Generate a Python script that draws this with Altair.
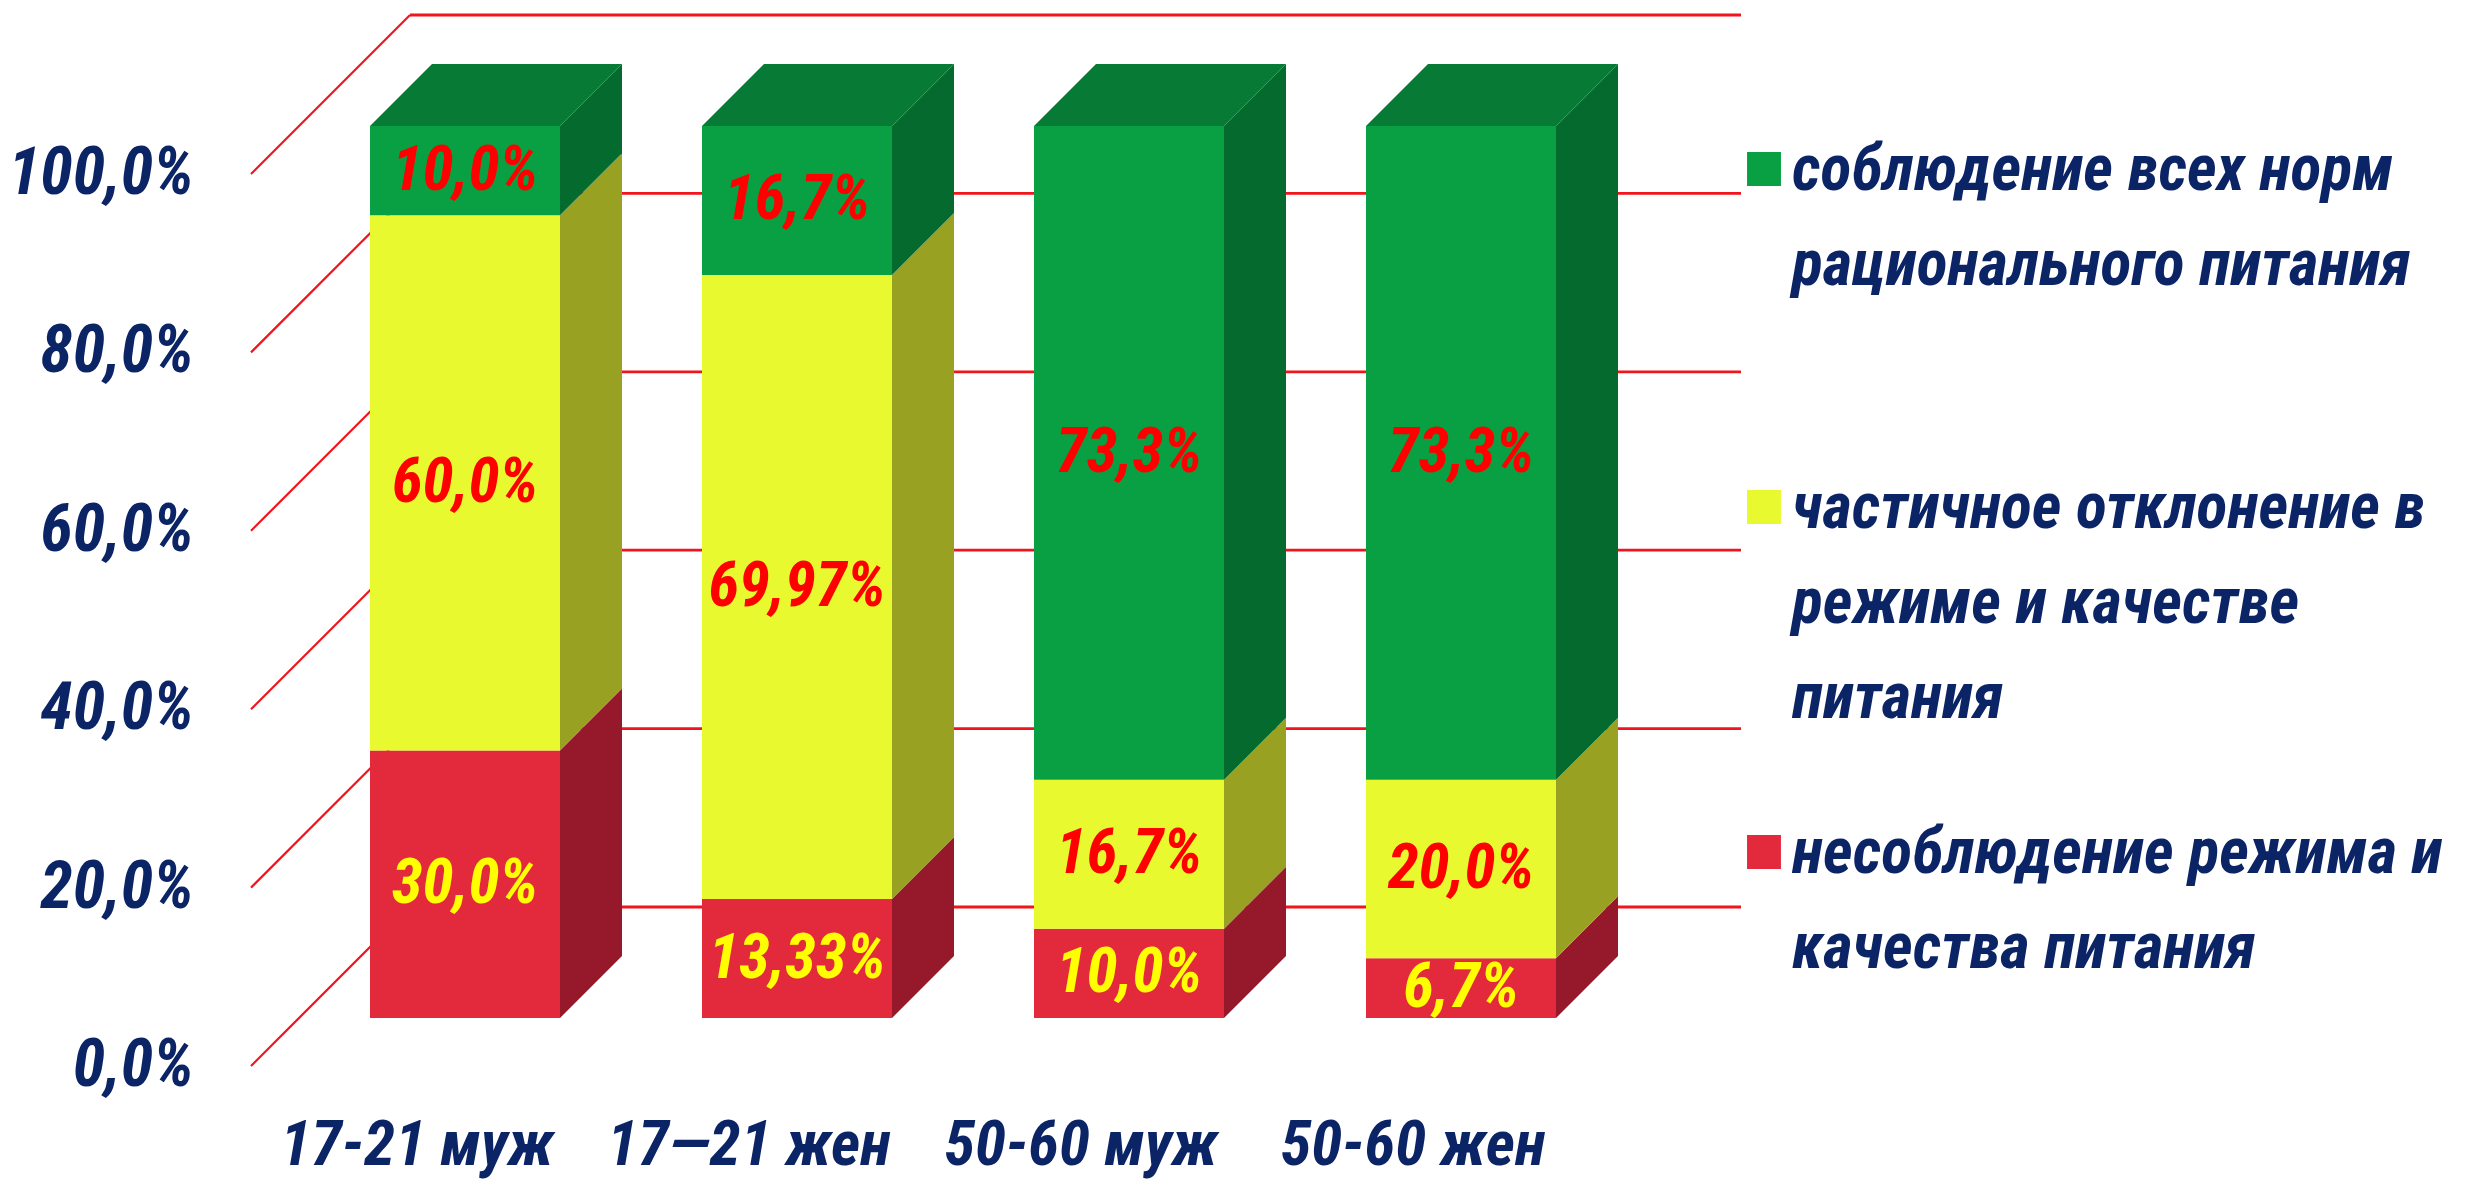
import altair as alt
import pandas as pd

# ---------------- data ----------------
categories = ["17-21 муж", "17—21 жен", "50-60 муж", "50-60 жен"]
series_names = [
    "несоблюдение режима и качества питания",
    "частичное отклонение в режиме и качестве питания",
    "соблюдение всех норм рационального питания",
]
red_values = [30.0, 13.33, 10.0, 6.7]
yellow_values = [60.0, 69.97, 16.7, 20.0]
green_values = [10.0, 16.7, 73.3, 73.3]
y_ticks = [0, 20, 40, 60, 80, 100]
legend_order = [2, 1, 0]  # legend lists green, yellow, red
legend_lines = [
    ["соблюдение всех норм", "рационального питания"],
    ["частичное отклонение в", "режиме и качестве", "питания"],
    ["несоблюдение режима и", "качества питания"],
]

# ---------------- styles ----------------
FRONT = ["#E32A3D", "#E9F92F", "#08A042"]
SIDE = ["#95192A", "#98A121", "#046A2D"]
TOP = ["#9E1F2D", "#A5AE25", "#077B35"]
LABEL_COL = ["#FFFF00", "#FF0000", "#FF0000"]
NAVY = "#0B2466"
GRID = "#F0141C"
FONT = "Liberation Sans Narrow, Roboto Condensed, Lato, sans-serif"

# ---------------- layout (pixels) ----------------
W, H = 2479, 1198
X0, STEP, BAR_HALF = 465, 332, 95
Y0, PPU = 1018, 8.92
DEPTH = 62          # bar depth
WALL = 111          # back wall behind bar front
FLOOR = 48          # floor front ahead of bar front
DIAG_LEFT = 251
WALL_LEFT = DIAG_LEFT + WALL + FLOOR
WALL_RIGHT = 1741


def ux(px):
    return (px - X0) / STEP


def dxu(px):
    return px / STEP


def vy(py):
    return (Y0 - py) / PPU


def dyv(px):
    return px / PPU


XS = alt.Scale(domain=[ux(0), ux(W)], nice=False, zero=False)
YS = alt.Scale(domain=[vy(H), vy(0)], nice=False, zero=False)


def X(f):
    return alt.X(f, type="quantitative", scale=XS, axis=None)


def Y(f):
    return alt.Y(f, type="quantitative", scale=YS, axis=None, stack=None)


def fmt(v, dec=None):
    if dec is None:
        dec = 2 if round(v, 1) != round(v, 2) else 1
    return f"{v:.{dec}f}".replace(".", ",") + "%"


# ---------------- build tables ----------------
series = [red_values, yellow_values, green_values]
front_rows, side_rows, top_rows, lab_rows = [], [], [], []
hw, dx, dy = dxu(BAR_HALF), dxu(DEPTH), dyv(DEPTH)
for i, cat in enumerate(categories):
    base = 0.0
    last = len(series) - 1
    for s, vals in enumerate(series):
        v = vals[i]
        start, end = base, base + v
        base = end
        front_rows.append(dict(x=i - hw, x2=i + hw, y=start, y2=end, color=FRONT[s]))
        fid = f"{i}-{s}"
        side_rows += [
            dict(face=fid, x=i + hw, y=end, y2=start, color=SIDE[s]),
            dict(face=fid, x=i + hw + dx, y=end + dy, y2=start + dy, color=SIDE[s]),
        ]
        lab_rows.append(dict(x=i, y=(start + end) / 2, text=fmt(v), color=LABEL_COL[s]))
        if s == last:
            T = end
            xl, xr = i - hw, i + hw
            top_rows += [
                dict(face=f"t{i}", x=xl, y=T, y2=T, color=TOP[s]),
                dict(face=f"t{i}", x=xl + dx, y=T + dy, y2=T, color=TOP[s]),
                dict(face=f"t{i}", x=xr, y=T + dy, y2=T, color=TOP[s]),
                dict(face=f"t{i}", x=xr + dx, y=T + dy, y2=T + dy, color=TOP[s]),
            ]

front_df = pd.DataFrame(front_rows)
side_df = pd.DataFrame(side_rows)
top_df = pd.DataFrame(top_rows)
lab_df = pd.DataFrame(lab_rows)

wall_df = pd.DataFrame(
    [dict(x=ux(WALL_LEFT), x2=ux(WALL_RIGHT), y=t + dyv(WALL), y2=t + dyv(WALL)) for t in y_ticks]
)
diag_df = pd.DataFrame(
    [dict(x=ux(DIAG_LEFT), x2=ux(WALL_LEFT), y=t - dyv(FLOOR), y2=t + dyv(WALL)) for t in y_ticks]
)
ylab_df = pd.DataFrame(
    [dict(x=ux(194), y=t - dyv(FLOOR), text=fmt(float(t), 1)) for t in y_ticks]
)
xlab_df = pd.DataFrame(
    [dict(x=i - dxu(FLOOR), y=-dyv(FLOOR), text=c) for i, c in enumerate(categories)]
)

leg_top = [171, 509, 854]
leg_sq, leg_txt = [], []
for k, s in enumerate(legend_order):
    leg_sq.append(dict(x=ux(1764), y=vy(leg_top[k] - 2), color=FRONT[s]))
    for j, line in enumerate(legend_lines[k]):
        leg_txt.append(dict(x=ux(1792), y=vy(leg_top[k] + 95 * j), text=line))
leg_sq_df = pd.DataFrame(leg_sq)
leg_txt_df = pd.DataFrame(leg_txt)

# ---------------- layers ----------------
wall = alt.Chart(wall_df).mark_rule(color=GRID, strokeWidth=2.8).encode(
    x=X("x"), x2="x2", y=Y("y"), y2="y2")
diag = alt.Chart(diag_df).mark_rule(color=GRID, strokeWidth=2.2).encode(
    x=X("x"), x2="x2", y=Y("y"), y2="y2")
sides = alt.Chart(side_df).mark_area(interpolate="linear").encode(
    x=X("x"), y=Y("y"), y2="y2", detail="face:N", color=alt.Color("color:N", scale=None))
tops = alt.Chart(top_df).mark_area(interpolate="linear").encode(
    x=X("x"), y=Y("y"), y2="y2", detail="face:N", color=alt.Color("color:N", scale=None))
fronts = alt.Chart(front_df).mark_rect().encode(
    x=X("x"), x2="x2", y=Y("y"), y2="y2", color=alt.Color("color:N", scale=None))
labels = alt.Chart(lab_df).mark_text(
    font=FONT, fontSize=63, fontStyle="italic", fontWeight="bold", baseline="middle", align="center"
).encode(x=X("x"), y=Y("y"), text="text:N", color=alt.Color("color:N", scale=None))
ylabels = alt.Chart(ylab_df).mark_text(
    font=FONT, fontSize=66, fontStyle="italic", fontWeight="bold", baseline="middle",
    align="right", color=NAVY
).encode(x=X("x"), y=Y("y"), text="text:N")
xlabels = alt.Chart(xlab_df).mark_text(
    font=FONT, fontSize=63, fontStyle="italic", fontWeight="bold", baseline="middle",
    align="center", color=NAVY, dy=80
).encode(x=X("x"), y=Y("y"), text="text:N")
leg_squares = alt.Chart(leg_sq_df).mark_square(size=1150, opacity=1).encode(
    x=X("x"), y=Y("y"), color=alt.Color("color:N", scale=None))
leg_text = alt.Chart(leg_txt_df).mark_text(
    font=FONT, fontSize=64, fontStyle="italic", fontWeight="bold", baseline="middle",
    align="left", color=NAVY
).encode(x=X("x"), y=Y("y"), text="text:N")

chart = alt.layer(
    wall, diag, sides, tops, fronts, labels, ylabels, xlabels, leg_squares, leg_text
).properties(
    width=W, height=H, autosize=alt.AutoSizeParams(type="none"), padding=0, background="white"
).configure_view(stroke=None)

chart.save("out.html", embed_options={"renderer": "svg", "actions": False})
